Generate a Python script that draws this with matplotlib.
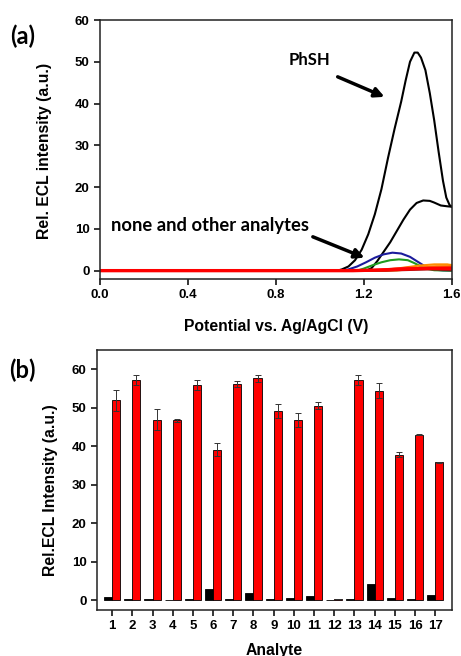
import numpy as np
import matplotlib.pyplot as plt

plt.rcParams['font.family'] = 'Liberation Sans'
plt.rcParams['font.weight'] = 'bold'

# ECL intensity-potential curves (potential in V, intensity in a.u.)
phsh_v = [0.0, 1.08, 1.10, 1.13, 1.16, 1.19, 1.22, 1.25, 1.28, 1.31, 1.34, 1.37, 1.39,
          1.41, 1.43, 1.445, 1.46, 1.48, 1.50, 1.52, 1.54, 1.56, 1.575, 1.59, 1.60]
phsh_i = [0.0, 0.0, 0.3, 1.0, 2.5, 5.0, 8.7, 13.5, 19.5, 27.0, 34.0, 40.5, 45.5,
          50.0, 52.2, 52.2, 51.0, 48.0, 42.5, 36.0, 28.5, 21.5, 17.5, 15.7, 15.3]
phsh2_v = [0.0, 1.21, 1.235, 1.26, 1.29, 1.32, 1.35, 1.38, 1.41, 1.44, 1.47, 1.50,
           1.52, 1.55, 1.58, 1.60]
phsh2_i = [0.0, 0.0, 0.6, 2.2, 4.5, 6.8, 9.5, 12.2, 14.6, 16.2, 16.8, 16.7,
           16.3, 15.6, 15.4, 15.3]
blue_v = [0.0, 1.10, 1.13, 1.17, 1.21, 1.25, 1.29, 1.33, 1.37, 1.41, 1.44, 1.47,
          1.50, 1.53, 1.56, 1.60]
blue_i = [0.0, 0.0, 0.3, 1.0, 2.0, 3.1, 3.9, 4.3, 4.1, 3.3, 2.3, 1.3,
          0.6, 0.2, 0.05, 0.0]
green_v = [0.0, 1.17, 1.20, 1.24, 1.28, 1.32, 1.36, 1.40, 1.43, 1.46, 1.49, 1.52, 1.60]
green_i = [0.0, 0.0, 0.5, 1.3, 2.0, 2.5, 2.7, 2.5, 1.8, 1.0, 0.4, 0.1, 0.0]
orange1_v = [0.0, 1.25, 1.35, 1.45, 1.52, 1.58, 1.60]
orange1_i = [0.0, 0.0, 0.5, 1.2, 1.5, 1.5, 1.3]
orange2_v = [0.0, 1.30, 1.40, 1.50, 1.60]
orange2_i = [0.0, 0.0, 0.4, 0.9, 1.0]
orange3_v = [0.0, 1.35, 1.45, 1.55, 1.60]
orange3_i = [0.0, 0.0, 0.7, 1.2, 1.4]
maroon_v = [0.0, 1.30, 1.50, 1.60]
maroon_i = [0.0, 0.0, 0.3, 0.1]
red2_v = [0.0, 1.20, 1.40, 1.60]
red2_i = [0.0, 0.0, 0.7, 0.4]
red_v = [0.0, 1.15, 1.30, 1.45, 1.60]
red_i = [0.0, 0.0, 0.2, 0.5, 0.6]

# bar chart: blank (black) vs. with PhSH (red) for each analyte
analytes = list(range(1, 18))
blank = [1.0, 0.4, 0.4, 0.1, 0.3, 3.0, 0.3, 1.8, 0.4, 0.7, 1.2, 0.1, 0.3, 4.3, 0.7, 0.3, 1.3]
phsh = [51.9, 57.2, 46.9, 46.8, 55.9, 39.1, 56.2, 57.6, 49.2, 46.8, 50.5, 0.4, 57.3,
        54.4, 37.8, 43.0, 35.8]
phsh_err = [2.8, 1.4, 2.8, 0.4, 1.2, 1.7, 0.7, 0.9, 1.8, 1.9, 0.9, 0.0, 1.3,
            1.9, 0.6, 0.2, 0.1]

fig = plt.figure(figsize=(4.61, 6.56), dpi=100)
ax1 = fig.add_axes([0.217, 0.5747, 0.763, 0.3948])
ax2 = fig.add_axes([0.210, 0.0701, 0.770, 0.3964])

ax1.plot(phsh_v, phsh_i, color='black', lw=1.5)
ax1.plot(phsh2_v, phsh2_i, color='black', lw=1.5)
ax1.plot(blue_v, blue_i, color='#1c1c9c', lw=1.5)
ax1.plot(green_v, green_i, color='#1f9a1f', lw=1.5)
ax1.plot(orange3_v, orange3_i, color='#ffb040', lw=1.5)
ax1.plot(orange1_v, orange1_i, color='#ff8c00', lw=1.5)
ax1.plot(orange2_v, orange2_i, color='#ff6a00', lw=1.5)
ax1.plot(maroon_v, maroon_i, color='#a01010', lw=1.5)
ax1.plot(red2_v, red2_i, color='#ff2020', lw=1.5)
ax1.plot(red_v, red_i, color='red', lw=2.4)

ax1.set_xlim(0, 1.6)
ax1.set_ylim(-2, 60)
ax1.set_xticks([0.0, 0.4, 0.8, 1.2, 1.6])
ax1.set_yticks(range(0, 61, 10))
ax1.set_xlabel('Potential vs. Ag/AgCl (V)', fontsize=11.3, fontweight='bold')
ax1.set_ylabel('Rel. ECL intensity (a.u.)', fontsize=11.3, fontweight='bold')
ax1.xaxis.set_label_coords(0.5, -0.155)
ax1.yaxis.set_label_coords(-0.136, 0.495)

arrow = dict(arrowstyle='-|>', color='black', lw=2.5, mutation_scale=14,
             shrinkA=0, shrinkB=0)
ax1.annotate('', xy=(1.294, 41.6), xytext=(1.081, 46.4), arrowprops=arrow)
ax1.annotate('', xy=(1.203, 3.1), xytext=(0.968, 8.1), arrowprops=arrow)
ax1.text(0.954, 50.5, 'PhSH', family='Lato', fontsize=12, fontweight='bold',
         ha='center', va='center')
ax1.text(0.5, 10.8, 'none and other analytes', family='Lato', fontsize=13.2,
         fontweight='bold', ha='center', va='center')

x = np.array(analytes)
ax2.bar(x - 0.2, blank, width=0.4, color='black', edgecolor='black', lw=0.6)
ax2.bar(x + 0.2, phsh, width=0.4, color='red', edgecolor='black', lw=0.6,
        yerr=phsh_err, capsize=2.5, error_kw=dict(ecolor='#333333', elinewidth=0.7,
                                                    capthick=0.7))
ax2.set_xlim(0.24, 17.82)
ax2.set_ylim(-2.5, 65)
ax2.set_xticks(analytes)
ax2.set_yticks(range(0, 61, 10))
ax2.set_xlabel('Analyte', fontsize=11.3, fontweight='bold')
ax2.set_ylabel('Rel.ECL Intensity (a.u.)', fontsize=11.3, fontweight='bold')
ax2.xaxis.set_label_coords(0.5, -0.125)
ax2.yaxis.set_label_coords(-0.11, 0.46)

for ax in (ax1, ax2):
    for s in ax.spines.values():
        s.set_linewidth(1.1)
        s.set_color('#222222')
    ax.tick_params(direction='out', length=4, width=1.1, labelsize=9.5)
    for lab in ax.get_xticklabels() + ax.get_yticklabels():
        lab.set_fontweight('bold')

fig.text(0.048, 0.945, '(a)', family='Lato', fontsize=17, fontweight='bold',
         ha='center', va='center')
fig.text(0.048, 0.436, '(b)', family='Lato', fontsize=17, fontweight='bold',
         ha='center', va='center')

fig.savefig('out.png', dpi=100)
